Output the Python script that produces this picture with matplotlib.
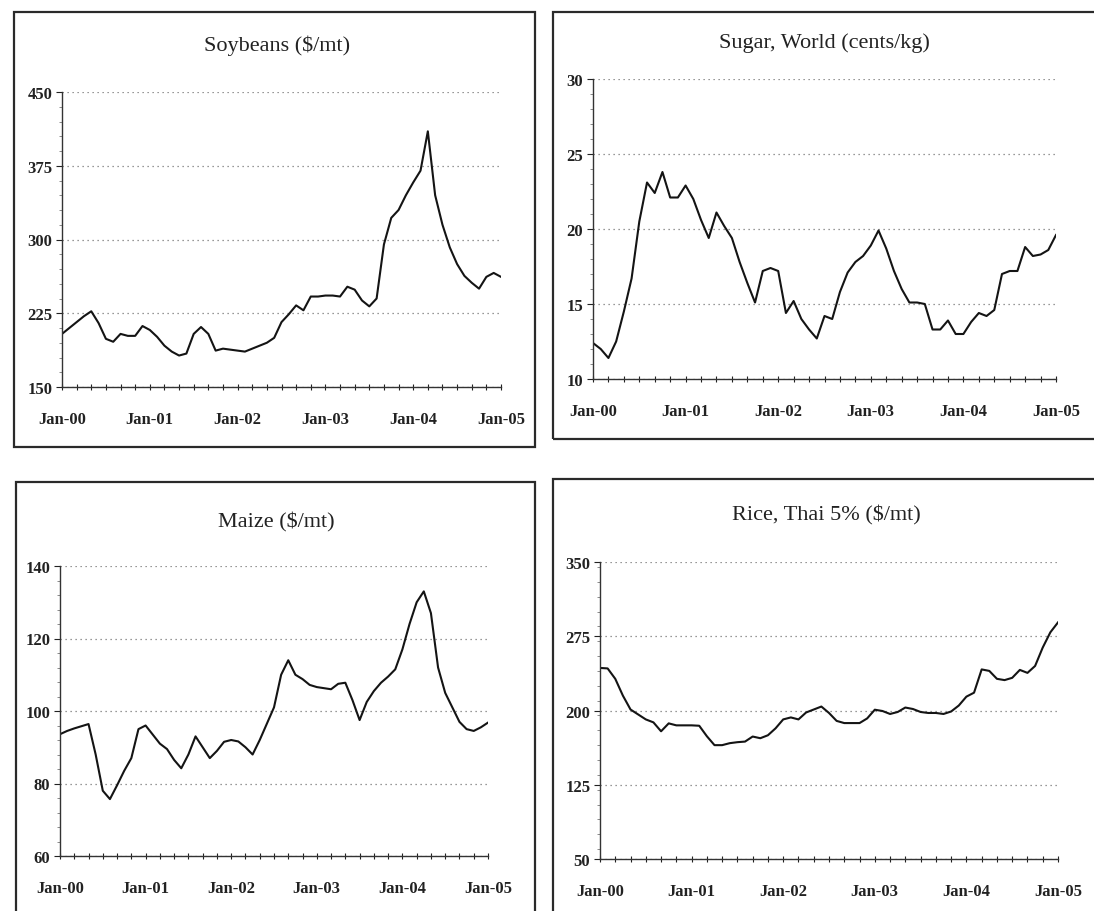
import matplotlib
matplotlib.use('Agg')
import matplotlib.pyplot as plt
from matplotlib.patches import Rectangle
from matplotlib.ticker import MultipleLocator

plt.rcParams['font.family'] = ['Liberation Serif', 'DejaVu Serif']

months = list(range(61))
xtick_pos = [0, 12, 24, 36, 48, 60]
xtick_labels = ['Jan-00', 'Jan-01', 'Jan-02', 'Jan-03', 'Jan-04', 'Jan-05']

soybeans = [204, 210, 216, 222, 227, 215, 199, 196, 204, 202, 202, 212,
            208, 201, 192, 186, 182, 184, 204, 211, 204, 187, 189, 188,
            187, 186, 189, 192, 195, 200, 216, 224, 233, 228, 242, 242,
            243, 243, 242, 252, 249, 238, 232, 240, 295, 322, 330, 345,
            358, 370, 410, 345, 315, 292, 275, 263, 256, 250, 262, 266,
            262]
soy_ticks = [150, 225, 300, 375, 450]

sugar = [12.4, 12.0, 11.4, 12.5, 14.5, 16.7, 20.5, 23.1, 22.4, 23.8, 22.1, 22.1,
         22.9, 22.0, 20.6, 19.4, 21.1, 20.2, 19.4, 17.8, 16.4, 15.1, 17.2, 17.4,
         17.2, 14.4, 15.2, 14.0, 13.3, 12.7, 14.2, 14.0, 15.8, 17.1, 17.8, 18.2,
         18.9, 19.9, 18.7, 17.2, 16.0, 15.1, 15.1, 15.0, 13.3, 13.3, 13.9, 13.0,
         13.0, 13.8, 14.4, 14.2, 14.6, 17.0, 17.2, 17.2, 18.8, 18.2, 18.3, 18.6,
         19.6]
sugar_ticks = [10, 15, 20, 25, 30]

maize = [93.6, 94.5, 95.2, 95.8, 96.4, 88.0, 78.0, 75.7, 79.5, 83.5, 87.0, 95.0,
         96.0, 93.5, 91.0, 89.5, 86.5, 84.2, 88.0, 93.0, 90.0, 87.0, 89.0, 91.5,
         92.0, 91.6, 90.0, 88.0, 92.0, 96.5, 101.0, 110.0, 114.0, 110.0, 108.8, 107.2,
         106.6, 106.3, 106.0, 107.5, 107.8, 103.0, 97.5, 102.5, 105.5, 107.8, 109.5, 111.5,
         117.0, 124.0, 130.0, 133.0, 127.0, 112.0, 105.0, 101.0, 97.0, 95.0, 94.5, 95.5,
         96.8]
maize_ticks = [60, 80, 100, 120, 140]

rice = [243, 242.5, 232, 215, 201, 196, 191, 188, 179, 187, 185, 185,
        185, 184.6, 174, 165, 165, 167, 168, 168.6, 173.7, 172, 175, 182,
        191, 193, 191, 198, 201, 204, 197.5, 189.5, 187.3, 187.3, 187.3, 192,
        200.8, 199.5, 196.5, 198.5, 203, 201.5, 198.5, 197.5, 197.5, 196.5, 199, 205,
        214, 218, 241.5, 240, 232, 230.7, 233, 241, 238, 245, 263.6, 279,
        289]
rice_ticks = [50, 125, 200, 275, 350]

titles = ['Soybeans ($/mt)', 'Sugar, World (cents/kg)', 'Maize ($/mt)', 'Rice, Thai 5% ($/mt)']

W, H = 1094, 912
fig = plt.figure(figsize=(W / 100, H / 100), dpi=100)
fig.patch.set_facecolor('white')


def px_rect(x0, y0, x1, y1):
    return [x0 / W, 1 - y1 / H, (x1 - x0) / W, (y1 - y0) / H]


panels = [
    dict(data=soybeans, ticks=soy_ticks, title=titles[0],
         ax=px_rect(62, 93, 501, 388), box=(14, 13, 535, 448), tpos=(277, 46)),
    dict(data=sugar, ticks=sugar_ticks, title=titles[1],
         ax=px_rect(593, 80, 1056, 380), box=(553, 13, 1110, 440), tpos=(824, 43)),
    dict(data=maize, ticks=maize_ticks, title=titles[2],
         ax=px_rect(60, 567, 488, 857), box=(16, 483, 535, 940), tpos=(276, 522)),
    dict(data=rice, ticks=rice_ticks, title=titles[3],
         ax=px_rect(600, 563, 1058, 860), box=(553, 480, 1110, 940), tpos=(826, 515)),
]

for p in panels:
    bx0, by0, bx1, by1 = p['box']
    rect = Rectangle((bx0 / W, 1 - by1 / H), (bx1 - bx0) / W, (by1 - by0) / H,
                     transform=fig.transFigure, fill=False, edgecolor='#2a2a2a',
                     linewidth=1.6, clip_on=False)
    fig.add_artist(rect)
    fig.text(p['tpos'][0] / W, 1 - p['tpos'][1] / H, p['title'], ha='center', va='center',
             fontsize=16, color='#222222')

    ax = fig.add_axes(p['ax'])
    ax.plot(months, p['data'], color='#141414', linewidth=1.5)
    t = p['ticks']
    step = t[1] - t[0]
    ax.set_ylim(t[0], t[-1])
    ax.set_xlim(0, 60)
    ax.set_yticks(t)
    ax.set_yticklabels([str(v) for v in t])
    ax.yaxis.set_minor_locator(MultipleLocator(step / 5))
    ax.set_xticks(xtick_pos)
    ax.set_xticklabels(xtick_labels)
    ax.xaxis.set_minor_locator(MultipleLocator(2))
    ax.tick_params(axis='x', which='both', direction='inout', length=5, width=0.8,
                   labelsize=12, pad=15, colors='#222222')
    ax.tick_params(axis='y', which='major', direction='out', length=4, width=0.8,
                   labelsize=12, pad=3, colors='#222222')
    ax.tick_params(axis='y', which='minor', direction='out', length=2, width=0.6,
                   colors='#777777')
    for lab in ax.get_xticklabels() + ax.get_yticklabels():
        lab.set_fontweight('bold')
    for s in ['top', 'right']:
        ax.spines[s].set_visible(False)
    for s in ['left', 'bottom']:
        ax.spines[s].set_color('#333333')
        ax.spines[s].set_linewidth(1.0)
    ax.yaxis.grid(True, which='major', linestyle=(0, (1, 3)), color='#777777', linewidth=0.9)
    ax.set_axisbelow(True)
    ax.set_facecolor('none')

fig.savefig('out.png', dpi=100, facecolor='white')
